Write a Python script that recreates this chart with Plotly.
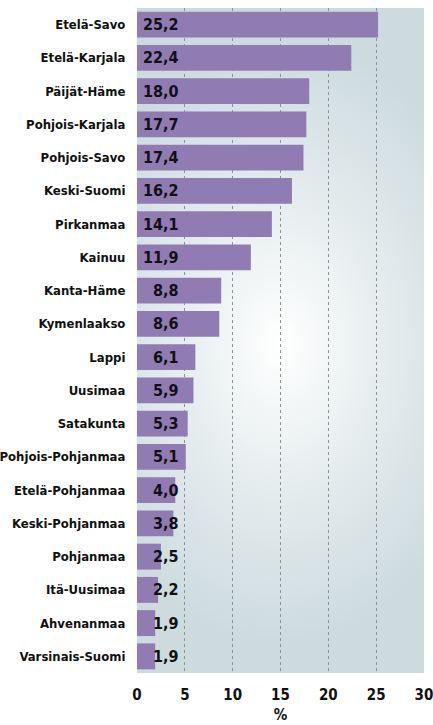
import base64
import plotly.graph_objects as go

regions = ["Etelä-Savo", "Etelä-Karjala", "Päijät-Häme", "Pohjois-Karjala", "Pohjois-Savo",
           "Keski-Suomi", "Pirkanmaa", "Kainuu", "Kanta-Häme", "Kymenlaakso", "Lappi",
           "Uusimaa", "Satakunta", "Pohjois-Pohjanmaa", "Etelä-Pohjanmaa", "Keski-Pohjanmaa",
           "Pohjanmaa", "Itä-Uusimaa", "Ahvenanmaa", "Varsinais-Suomi"]
values = [25.2, 22.4, 18.0, 17.7, 17.4, 16.2, 14.1, 11.9, 8.8, 8.6, 6.1,
          5.9, 5.3, 5.1, 4.0, 3.8, 2.5, 2.2, 1.9, 1.9]
xticks = [0, 5, 10, 15, 20, 25, 30]

FONT = "DejaVu Sans Condensed, Liberation Sans Narrow, Arial Narrow, sans-serif"
PURPLE = "#917bb3"

# radial background glow, white in the middle fading to grey-blue
svg = """<svg xmlns='http://www.w3.org/2000/svg' width='290' height='665' preserveAspectRatio='none'>
<defs><radialGradient id='g' cx='0.5' cy='0.5' r='0.75' fx='0.5' fy='0.51' gradientUnits='objectBoundingBox'
 gradientTransform='translate(0.5 0.5) scale(1 0.6) translate(-0.5 -0.5)'>
<stop offset='0' stop-color='#ffffff'/><stop offset='0.55' stop-color='#e2eaec'/>
<stop offset='1' stop-color='#cddbdf'/></radialGradient></defs>
<rect width='290' height='665' fill='url(#g)'/></svg>"""
bg = "data:image/svg+xml;base64," + base64.b64encode(svg.encode()).decode()

fig = go.Figure(go.Bar(
    x=values, y=regions, orientation="h",
    marker=dict(color=PURPLE, line=dict(width=0)),
    hoverinfo="skip",
))

for r, v in zip(regions, values):
    fig.add_annotation(
        x=4.65, y=r, xref="x", yref="y", text=f"{v:.1f}".replace(".", ","),
        showarrow=False, xanchor="right", yanchor="middle",
        font=dict(family=FONT, size=16, color="#111111", weight="bold"),
    )

fig.update_layout(
    width=433, height=725,
    margin=dict(l=137, r=9, t=8, b=52),
    paper_bgcolor="white",
    plot_bgcolor="#cddbdf",
    bargap=0.22,
    showlegend=False,
    font=dict(family=FONT, size=13, color="#111111", weight="bold"),
    images=[dict(source=bg, xref="paper", yref="paper", x=0, y=1, sizex=1, sizey=1,
                 xanchor="left", yanchor="top", sizing="stretch", layer="below")],
)
fig.update_xaxes(
    range=[0, 30], tickvals=xticks, ticktext=[str(t) for t in xticks],
    showgrid=True, gridcolor="#8a9496", griddash="dot", gridwidth=1,
    zeroline=False, showline=False, automargin=False, ticklabeloverflow="allow",
    ticks="outside", ticklen=8, tickcolor="rgba(0,0,0,0)",
    tickfont=dict(family=FONT, size=15, weight="bold"),
    title=dict(text="%", font=dict(family=FONT, size=15, weight="bold"), standoff=6),
)
fig.update_yaxes(
    categoryorder="array", categoryarray=regions, autorange="reversed",
    showgrid=False, zeroline=False, showline=False, automargin=False,
    ticks="outside", ticklen=8, tickcolor="rgba(0,0,0,0)",
    tickfont=dict(family=FONT, size=13, weight="bold"),
)

# drop the browser's default body margin so the figure sits at the page corner
fig.write_html("out.html", config={"displayModeBar": False},
               post_script="document.body.style.margin='0';")
